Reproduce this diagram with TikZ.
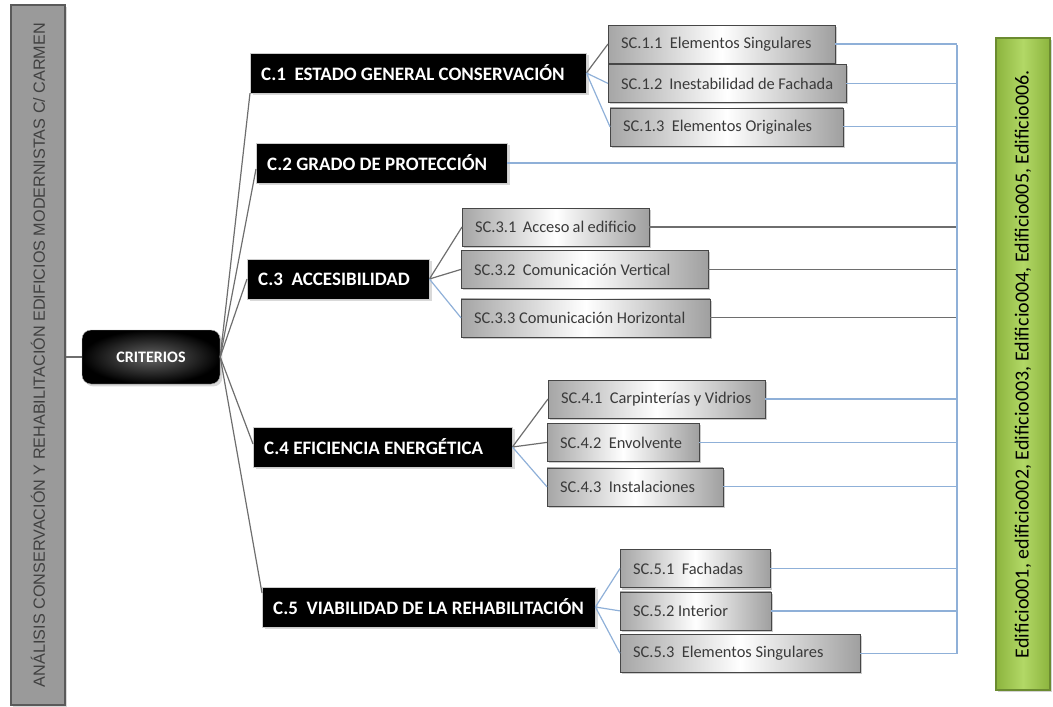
\documentclass[tikz,border=0pt]{standalone}
\usepackage{fontspec}
\setmainfont{Carlito}
\newfontfamily\arialfont{Liberation Sans}
\usepackage{xcolor}
\usepackage{tikz}
\usetikzlibrary{positioning,shadows}

\definecolor{barfill}{HTML}{9A9A9A}
\definecolor{baredge}{HTML}{5A5A5A}
\definecolor{lineblue}{HTML}{8FB0D8}
\definecolor{linegray}{HTML}{6E6E6E}
\definecolor{greenedge}{HTML}{8CB43E}
\definecolor{greenmid}{HTML}{B2D866}
\definecolor{greenline}{HTML}{6B8B30}
\definecolor{subtext}{HTML}{3A3A3A}

\begin{document}
\begin{tikzpicture}[
		x=1pt, y=-1pt,
		titlebar/.style={rectangle, draw=baredge, line width=1.5pt, fill=barfill, minimum width=54pt, minimum height=700pt, inner sep=0pt, font=\arialfont\fontsize{16.2}{16.2}\selectfont, text=black!75, drop shadow={opacity=0.3}},
		critnode/.style={rectangle, rounded corners=9pt, draw=gray!60, inner color=black!60, outer color=black, minimum width=138pt, minimum height=54pt, font=\bfseries\fontsize{16}{16}\selectfont, text=white, drop shadow={opacity=0.3}},
		catnode/.style={rectangle, fill=black, draw=gray!40, inner xsep=11pt, minimum height=40pt, execute at begin node={\hbox to #1\bgroup}, execute at end node={\hfil\egroup}, font=\bfseries\fontsize{19}{19}\selectfont, text=white, drop shadow={opacity=0.3}},
		subnode/.style={rectangle, draw=gray!55!black, left color=gray!70, right color=gray!75, middle color=white, inner xsep=13pt, minimum height=38pt, execute at begin node={\hbox to #1\bgroup}, execute at end node={\hfil\egroup}, font=\fontsize{16.4}{16.4}\selectfont, text=subtext, drop shadow={shadow xshift=2pt, shadow yshift=-2pt, opacity=0.4}},
		edifnode/.style={rectangle, draw=greenline, line width=1.2pt, left color=greenedge, right color=greenedge, middle color=greenmid, minimum width=54pt, minimum height=652pt, inner sep=0pt, font=\fontsize{20}{20}\selectfont, text=black, drop shadow={opacity=0.35}},
		grayline/.style={linegray, line width=1.2pt},
		blueline/.style={lineblue, line width=1.2pt},
	]
		\useasboundingbox (0,0) rectangle (1053,707);

		% nodes
		\node[titlebar] (title) at (38,355) {\rotatebox{90}{ANÁLISIS CONSERVACIÓN Y REHABILITACIÓN EDIFICIOS MODERNISTAS C/ CARMEN}};
		\node[critnode] (crit) at (151,357) {CRITERIOS};

		\node[catnode=314pt, anchor=west] (c1) at (250,73)  {C.1~~ESTADO GENERAL CONSERVACIÓN};
		\node[catnode=229pt, anchor=west] (c2) at (256,163) {C.2 GRADO DE PROTECCIÓN};
		\node[catnode=160pt, anchor=west] (c3) at (247,279) {C.3~~ACCESIBILIDAD};
		\node[catnode=237pt, anchor=west] (c4) at (253,447) {C.4 EFICIENCIA ENERGÉTICA};
		\node[catnode=311pt, anchor=west] (c5) at (262,607) {C.5~~VIABILIDAD DE LA REHABILITACIÓN};

		\node[subnode=201pt, anchor=west] (sc11) at (608,44) {SC.1.1~~Elementos Singulares};
		\node[subnode=212pt] (sc12) [below right=1pt and 0pt of sc11.south west] {SC.1.2~~Inestabilidad de Fachada};
		\node[subnode=207pt] (sc13) [below right=5pt and 2pt of sc12.south west] {SC.1.3~~Elementos Originales};

		\node[subnode=161pt, anchor=west] (sc31) at (462,227) {SC.3.1~~Acceso al edificio};
		\node[subnode=221pt] (sc32) [below right=4pt and -1pt of sc31.south west] {SC.3.2~~Comunicación Vertical};
		\node[subnode=223pt] (sc33) [below right=10pt and 0pt of sc32.south west] {SC.3.3 Comunicación Horizontal};

		\node[subnode=191pt, anchor=west] (sc41) at (548,399) {SC.4.1~~Carpinterías y Vidrios};
		\node[subnode=126pt] (sc42) [below right=5pt and -1pt of sc41.south west] {SC.4.2~~Envolvente};
		\node[subnode=150pt] (sc43) [below right=6pt and 0pt of sc42.south west] {SC.4.3~~Instalaciones};

		\node[subnode=124pt, anchor=west] (sc51) at (620,568.5) {SC.5.1~~Fachadas};
		\node[subnode=125pt] (sc52) [below right=4pt and 0pt of sc51.south west] {SC.5.2 Interior};
		\node[subnode=214pt] (sc53) [below right=4pt and 0pt of sc52.south west] {SC.5.3~~Elementos Singulares};

		\node[edifnode] (edif) at (1023,364) {\rotatebox{90}{Edificio001, edificio002, Edificio003, Edificio004, Edificio005, Edificio006.}};

		\coordinate (bustop) at (957,45);
		\coordinate (busbot) at (957,654);

		% lines
		\draw[grayline] (title.east |- crit.west) -- (crit.west);
		\draw[grayline] (crit.east) -- (c1.south west);
		\draw[grayline] (crit.east) -- ([yshift=-6pt]c2.west);
		\draw[grayline] (crit.east) -- (c3.west);
		\draw[grayline] (crit.east) -- ([yshift=3pt]c4.west);
		\draw[grayline] (crit.east) -- ([yshift=14pt]c5.west);

		\draw[grayline] (c1.east) -- (sc11.west);
		\draw[blueline] (c1.east) -- (sc12.west);
		\draw[blueline] (c1.east) -- (sc13.west);
		\draw[grayline] (c3.east) -- (sc31.west);
		\draw[grayline] (c3.east) -- (sc32.west);
		\draw[blueline] (c3.east) -- (sc33.west);
		\draw[grayline] (c4.east) -- (sc41.west);
		\draw[grayline] (c4.east) -- (sc42.west);
		\draw[blueline] (c4.east) -- (sc43.west);
		\draw[blueline] (c5.east) -- (sc51.west);
		\draw[blueline] (c5.east) -- (sc52.west);
		\draw[blueline] (c5.east) -- (sc53.west);

		\draw[blueline] (sc11.east) -- (sc11.east -| bustop);
		\draw[blueline] (sc12.east) -- (sc12.east -| bustop);
		\draw[blueline] (sc13.east) -- (sc13.east -| bustop);
		\draw[blueline] (c2.east) -- (c2.east -| bustop);
		\draw[grayline] (sc31.east) -- (sc31.east -| bustop);
		\draw[grayline] (sc32.east) -- (sc32.east -| bustop);
		\draw[grayline] (sc33.east) -- (sc33.east -| bustop);
		\draw[blueline] (sc41.east) -- (sc41.east -| bustop);
		\draw[blueline] (sc42.east) -- (sc42.east -| bustop);
		\draw[blueline] (sc43.east) -- (sc43.east -| bustop);
		\draw[blueline] (sc51.east) -- (sc51.east -| bustop);
		\draw[blueline] (sc52.east) -- (sc52.east -| bustop);
		\draw[blueline] (sc53.east) -- (sc53.east -| bustop);
		\draw[blueline] (bustop) -- (busbot);
	\end{tikzpicture}
\end{document}
